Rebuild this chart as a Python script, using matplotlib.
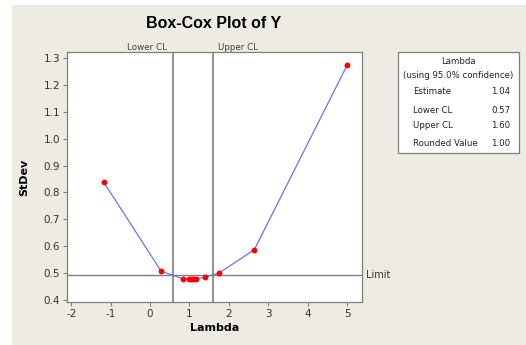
import numpy as np
import matplotlib.pyplot as plt
from matplotlib.patches import Rectangle

plt.rcParams['font.family'] = 'DejaVu Sans'

lam = [-1.18, 0.28, 0.835, 0.975, 1.04, 1.09, 1.17, 1.40, 1.75, 2.645, 5.0]
stdev = [0.839, 0.506, 0.4775, 0.4775, 0.476, 0.477, 0.477, 0.484, 0.499, 0.586, 1.274]
lower_cl = 0.57
upper_cl = 1.60
limit = 0.491
estimate = 1.04
rounded = 1.00

bg = '#eeebe2'
grey = '#7f7f7f'

fig = plt.figure(figsize=(5.26, 3.45), dpi=100, facecolor='white')
# beige panel behind everything (white strip on the left and top)
fig.patches.append(Rectangle((12 / 526, 0), 1, 1 - 5 / 345, transform=fig.transFigure,
                             facecolor=bg, edgecolor='none', zorder=-10))

ax = fig.add_axes([67 / 526, 1 - 302 / 345, 295 / 526, 250 / 345])
ax.set_zorder(1)
ax.set_facecolor('white')
ax.plot(lam, stdev, color='#6f6ff5', lw=0.9, zorder=2)
ax.scatter(lam, stdev, color='red', s=18, zorder=3, linewidths=0)

ax.axvline(lower_cl, color=grey, lw=1.2, zorder=1)
ax.axvline(upper_cl, color=grey, lw=1.2, zorder=1)
ax.axhline(limit, color=grey, lw=1.0, zorder=1)

ax.set_xlim(-2.11, 5.38)
ax.set_ylim(0.391, 1.324)
ax.set_xticks(range(-2, 6))
ax.set_yticks(np.arange(0.4, 1.31, 0.1))
ax.set_xticklabels([str(v) for v in range(-2, 6)])
ax.set_yticklabels([f'{v:.1f}' for v in np.arange(0.4, 1.31, 0.1)])
ax.tick_params(labelsize=7.5, colors='#333333', length=3, width=0.8, color=grey, pad=2)
for s in ax.spines.values():
    s.set_color(grey)
    s.set_linewidth(0.9)

ax.text(lower_cl - 0.15, 1.0, 'Lower CL', transform=ax.get_xaxis_transform(),
        ha='right', va='bottom', fontsize=6.3, color='#444444')
ax.text(upper_cl + 0.12, 1.0, 'Upper CL', transform=ax.get_xaxis_transform(),
        ha='left', va='bottom', fontsize=6.3, color='#444444')
ax.text(1.015, limit, 'Limit', transform=ax.get_yaxis_transform(),
        ha='left', va='center', fontsize=7, color='#333333')

ax.set_xlabel('Lambda', fontsize=8, fontweight='bold', labelpad=3)
ax.set_ylabel('StDev', fontsize=8, fontweight='bold', labelpad=10)
fig.text(214 / 526, 1 - 23 / 345, 'Box-Cox Plot of Y', ha='center', va='center',
         fontsize=11.5, fontweight='bold', family='Liberation Sans')

# summary box on the right
fig.patches.append(Rectangle((398 / 526, 1 - 153 / 345), 121 / 526, 101 / 345,
                             transform=fig.transFigure, facecolor='white',
                             edgecolor=grey, lw=0.9, zorder=-5))
def ftxt(x, y, s, ha='left'):
    fig.text(x / 526, 1 - y / 345, s, ha=ha, va='center', fontsize=6.2, color='#222222')

ftxt(458, 62, 'Lambda', ha='center')
ftxt(458, 76, '(using 95.0% confidence)', ha='center')
ftxt(413, 92, 'Estimate')
ftxt(510, 92, f'{estimate:.2f}', ha='right')
ftxt(413, 111, 'Lower CL')
ftxt(510, 111, f'{lower_cl:.2f}', ha='right')
ftxt(413, 125, 'Upper CL')
ftxt(510, 125, f'{upper_cl:.2f}', ha='right')
ftxt(413, 144, 'Rounded Value')
ftxt(510, 144, f'{rounded:.2f}', ha='right')

fig.savefig('out.png', dpi=100, facecolor='white')
